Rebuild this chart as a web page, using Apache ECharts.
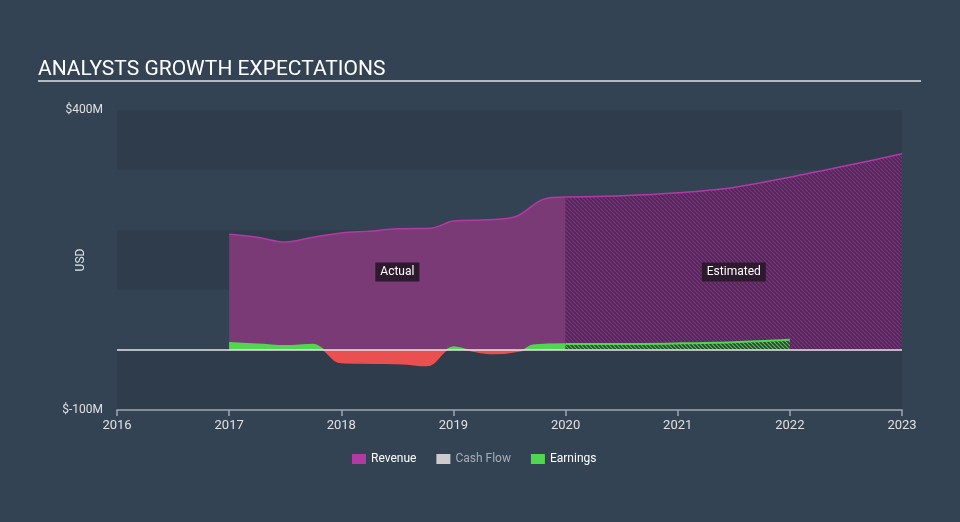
<!DOCTYPE html>
<html>
<head>
<meta charset="utf-8">
<script src="https://cdn.jsdelivr.net/npm/echarts@6/dist/echarts.min.js"></script>
<style>
html,body{margin:0;padding:0;background:#344353;}
#c{width:960px;height:522px;}
</style>
</head>
<body>
<div id="c"></div>
<script>
// ---- data (x = decimal year, y = USD millions) ----
const yearTicks = [2016, 2017, 2018, 2019, 2020, 2021, 2022, 2023];
const revenueActual = [
  [2017, 193], [2017.25, 188], [2017.5, 180], [2017.75, 188], [2018, 195],
  [2018.25, 198], [2018.5, 202], [2018.8, 203], [2019, 215], [2019.3, 217],
  [2019.55, 222], [2019.8, 251], [2020, 255]
];
const revenueEstimated = [
  [2020, 255], [2020.5, 257], [2021, 262], [2021.5, 271], [2022, 288],
  [2022.5, 307], [2023, 327]
];
const earningsActual = [
  [2017, 12], [2017.3, 9], [2017.5, 7], [2017.75, 9], [2017.83, 2],
  [2018, -21], [2018.3, -22], [2018.55, -23], [2018.76, -26], [2018.94, 0],
  [2019, 5], [2019.13, 0], [2019.35, -6], [2019.61, -1], [2019.71, 8], [2020, 10]
];
const earningsEstimated = [
  [2020, 10], [2020.5, 10], [2021, 11], [2021.5, 13], [2022, 17]
];
const cashFlow = [];
const yTickLabels = {400: '$400M', '-100': '$-100M'};

function hatch(bg, fg, size, lw) {
  const c = document.createElement('canvas');
  c.width = size; c.height = size;
  const ctx = c.getContext('2d');
  ctx.fillStyle = bg; ctx.fillRect(0, 0, size, size);
  ctx.strokeStyle = fg; ctx.lineWidth = lw;
  ctx.beginPath();
  for (const o of [-size, 0, size]) {
    ctx.moveTo(o, 0); ctx.lineTo(o + size, size);
  }
  ctx.stroke();
  return c;
}

const purpleHatch = {image: hatch('#4a2c55', '#81337f', 4, 1.2), repeat: 'repeat'};
const greenHatch = {image: hatch('#3c3a4a', '#4cc94c', 4, 1.2), repeat: 'repeat'};

const chart = echarts.init(document.getElementById('c'), null, {renderer: 'canvas'});
const font = 'Roboto, "Noto Sans", sans-serif';

chart.setOption({
  backgroundColor: '#344353',
  animation: false,
  textStyle: {fontFamily: font},
  title: {
    text: 'ANALYSTS GROWTH EXPECTATIONS',
    left: 33, top: 54,
    textStyle: {color: '#ffffff', fontSize: 21, fontWeight: 'normal', fontFamily: font}
  },
  graphic: [{
    type: 'line', silent: true,
    shape: {x1: 38, y1: 81, x2: 921, y2: 81},
    style: {stroke: '#b4bac2', lineWidth: 2}
  }],
  grid: {left: 117, right: 58, top: 110, bottom: 112},
  legend: {
    bottom: 52, left: 347,
    icon: 'rect', itemWidth: 14, itemHeight: 10, itemGap: 20,
    textStyle: {color: '#ffffff', fontSize: 12, fontFamily: font},
    data: [
      {name: 'Revenue'},
      {name: 'Cash Flow', textStyle: {color: '#a8adb3'}},
      {name: 'Earnings'}
    ],
    selectedMode: false
  },
  xAxis: {
    type: 'value', min: yearTicks[0], max: yearTicks[yearTicks.length - 1], interval: 1,
    axisLine: {show: true, onZero: false, lineStyle: {color: '#9ea8b3', width: 1.5}},
    axisTick: {show: true, length: 6, lineStyle: {color: '#9ea8b3', width: 1.5}},
    axisLabel: {color: '#e0e0e0', fontSize: 13, margin: 9, formatter: v => String(v)},
    splitLine: {show: false}
  },
  yAxis: {
    type: 'value', min: -100, max: 400, interval: 100,
    name: 'USD', nameLocation: 'middle', nameGap: 30, nameRotate: 90,
    nameMoveOverlap: false,
    nameTextStyle: {color: '#dfe2e6', fontSize: 12},
    axisLine: {show: false}, axisTick: {show: false},
    axisLabel: {color: '#e0e0e0', fontSize: 12, margin: 14,
      formatter: v => yTickLabels[v] || ''},
    splitLine: {show: false},
    splitArea: {show: true, areaStyle: {color: ['#2e3c4b', 'rgba(0,0,0,0)']}}
  },
  series: [
    {
      name: 'Revenue', type: 'line', data: revenueActual, smooth: 0.35,
      showSymbol: false, color: '#b23aa5',
      lineStyle: {color: '#b23aa5', width: 1.5},
      areaStyle: {color: '#7a3a76', opacity: 1},
      markPoint: {
        symbol: 'rect', symbolSize: 0, silent: true,
        label: {show: true, formatter: 'Actual', color: '#ffffff', fontSize: 12,
          backgroundColor: '#2e1a2e', padding: [4, 5, 3, 5], position: 'inside'},
        data: [{coord: [2018.5, 130]}]
      },
      z: 2
    },
    {
      name: 'Revenue', type: 'line', data: revenueEstimated, smooth: 0.35,
      showSymbol: false, color: '#b23aa5',
      lineStyle: {color: '#b23aa5', width: 1.5},
      areaStyle: {color: purpleHatch, opacity: 1},
      markPoint: {
        symbol: 'rect', symbolSize: 0, silent: true,
        label: {show: true, formatter: 'Estimated', color: '#ffffff', fontSize: 12,
          backgroundColor: '#2e1a2e', padding: [4, 5, 3, 5], position: 'inside'},
        data: [{coord: [2021.5, 130]}]
      },
      z: 2
    },
    {
      name: 'Cash Flow', type: 'line', data: cashFlow, color: '#cccccc',
      showSymbol: false
    },
    {
      name: 'Earnings', type: 'line', data: earningsActual, smooth: 0.4,
      showSymbol: false, color: '#4fd84f',
      lineStyle: {width: 1.5},
      areaStyle: {opacity: 1},
      z: 4,
      markLine: {
        silent: true, symbol: ['none', 'none'],
        lineStyle: {color: '#e6e6e6', width: 1.5, type: 'solid'},
        label: {show: false},
        data: [{yAxis: 0}]
      }
    },
    {
      name: 'Earnings', type: 'line', data: earningsEstimated, smooth: 0.35,
      showSymbol: false, color: '#4fd84f',
      lineStyle: {color: '#4fd84f', width: 2},
      areaStyle: {color: greenHatch, opacity: 1},
      z: 4
    }
  ]
});

// positive/negative colouring of actual earnings, split at the axis zero
const yTop = chart.convertToPixel({yAxisIndex: 0}, 400);
const yBot = chart.convertToPixel({yAxisIndex: 0}, -100);
const yZero = chart.convertToPixel({yAxisIndex: 0}, 0);
const f = (yZero - yTop) / (yBot - yTop);
function posNeg() {
  return new echarts.graphic.LinearGradient(0, yTop, 0, yBot, [
    {offset: 0, color: '#4fd84f'}, {offset: f, color: '#4fd84f'},
    {offset: f, color: '#eb5050'}, {offset: 1, color: '#eb5050'}
  ], true);
}
chart.setOption({
  series: [{}, {}, {}, {
    lineStyle: {color: posNeg()},
    areaStyle: {color: posNeg(), opacity: 1}
  }, {}]
});
</script>
</body>
</html>
